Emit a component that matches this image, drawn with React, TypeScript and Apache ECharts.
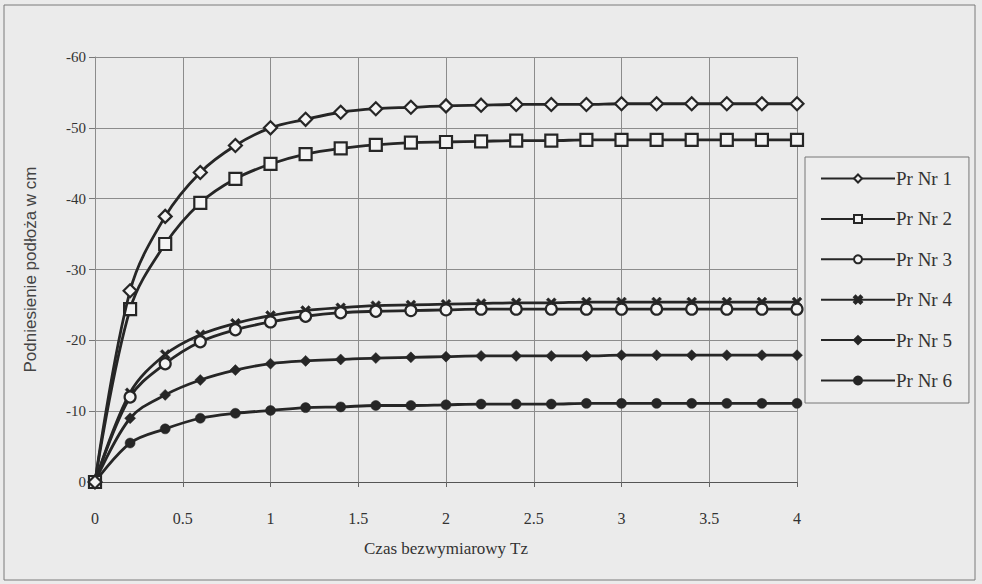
import React, { useEffect, useRef } from "react";
import * as echarts from "echarts";

const xValues = [0, 0.2, 0.4, 0.6, 0.8, 1.0, 1.2, 1.4, 1.6, 1.8, 2.0, 2.2, 2.4, 2.6, 2.8, 3.0, 3.2, 3.4, 3.6, 3.8, 4.0];

const seriesNames = ["Pr Nr 1", "Pr Nr 2", "Pr Nr 3", "Pr Nr 4", "Pr Nr 5", "Pr Nr 6"];

const pr1 = [0, -27.0, -37.5, -43.7, -47.5, -50.0, -51.2, -52.2, -52.7, -52.9, -53.1, -53.2, -53.3, -53.3, -53.3, -53.4, -53.4, -53.4, -53.4, -53.4, -53.4];
const pr2 = [0, -24.4, -33.6, -39.4, -42.8, -44.9, -46.3, -47.1, -47.6, -47.9, -48.0, -48.1, -48.2, -48.2, -48.3, -48.3, -48.3, -48.3, -48.3, -48.3, -48.3];
const pr3 = [0, -12.0, -16.7, -19.8, -21.5, -22.6, -23.4, -23.9, -24.1, -24.2, -24.3, -24.4, -24.4, -24.4, -24.4, -24.4, -24.4, -24.4, -24.4, -24.4, -24.4];
const pr4 = [0, -12.6, -18.0, -20.8, -22.4, -23.5, -24.2, -24.6, -24.9, -25.0, -25.1, -25.2, -25.3, -25.3, -25.4, -25.4, -25.4, -25.4, -25.4, -25.4, -25.4];
const pr5 = [0, -9.0, -12.3, -14.4, -15.8, -16.7, -17.1, -17.3, -17.5, -17.6, -17.7, -17.8, -17.8, -17.8, -17.8, -17.9, -17.9, -17.9, -17.9, -17.9, -17.9];
const pr6 = [0, -5.5, -7.5, -9.0, -9.7, -10.1, -10.5, -10.6, -10.8, -10.8, -10.9, -11.0, -11.0, -11.0, -11.1, -11.1, -11.1, -11.1, -11.1, -11.1, -11.1];

const allValues = [pr1, pr2, pr3, pr4, pr5, pr6];

const yMin = -60;
const yMax = 0;
const yStep = 10;
const xMin = 0;
const xMax = 4;
const xStep = 0.5;

const INK = "#262626";
const CROSS =
  "path://M2,0 L5,3 L8,0 L10,2 L7,5 L10,8 L8,10 L5,7 L2,10 L0,8 L3,5 L0,2 Z";

const markerDefs = [
  { symbol: "diamond", size: 13, hollow: true },
  { symbol: "rect", size: 12, hollow: true },
  { symbol: "circle", size: 11, hollow: true },
  { symbol: CROSS, size: 10, hollow: false },
  { symbol: "diamond", size: 11, hollow: false },
  { symbol: "circle", size: 10, hollow: false },
];

export default function App() {
  const ref = useRef<HTMLDivElement>(null);

  useEffect(() => {
    if (!ref.current) return;
    const chart = echarts.init(ref.current, undefined, { renderer: "svg" });

    const series = seriesNames.map((name, i) => {
      const m = markerDefs[i];
      return {
        name,
        type: "line",
        data: xValues.map((x, j) => [x, allValues[i][j]]),
        smooth: 0.35,
        symbol: m.symbol,
        symbolSize: m.size,
        showAllSymbol: true,
        lineStyle: { color: INK, width: 2.8 },
        itemStyle: m.hollow
          ? { color: "#f4f4f4", borderColor: INK, borderWidth: 2.2 }
          : { color: INK, borderColor: INK, borderWidth: 0.5 },
        z: 10 - i,
      };
    });

    chart.setOption({
      animation: false,
      backgroundColor: "#ebebeb",
      textStyle: { fontFamily: "Liberation Serif" },
      grid: { left: 95, right: 185, top: 57, bottom: 102, containLabel: false },
      graphic: [
        {
          type: "rect",
          shape: { x: 4, y: 5, width: 971, height: 575 },
          style: { fill: "none", stroke: "#7a7a7a", lineWidth: 1 },
          silent: true,
        },
      ],
      legend: {
        orient: "vertical",
        left: 805,
        top: 157,
        padding: [12, 17, 13, 15],
        itemWidth: 74,
        itemHeight: 10,
        itemGap: 21.4,
        borderColor: "#777",
        borderWidth: 1,
        backgroundColor: "#ededed",
        textStyle: { fontFamily: "Liberation Serif", fontSize: 19, color: "#333", padding: [0, 0, 0, -4] },
        data: seriesNames,
      },
      xAxis: {
        type: "value",
        min: xMin,
        max: xMax,
        interval: xStep,
        name: "Czas bezwymiarowy Tz",
        nameLocation: "middle",
        nameGap: 58,
        nameTextStyle: { fontFamily: "Liberation Serif", fontSize: 17, color: "#333" },
        axisLine: { show: true, lineStyle: { color: "#555", width: 1.2 } },
        axisTick: { show: true, length: 5, inside: false, lineStyle: { color: "#666" } },
        axisLabel: { margin: 28, fontSize: 16, color: "#333", fontFamily: "Liberation Serif" },
        splitLine: { show: true, lineStyle: { color: "#8c8c8c", width: 1 } },
      },
      yAxis: {
        type: "value",
        min: yMin,
        max: yMax,
        interval: yStep,
        inverse: true,
        name: "Podniesienie podłoża w cm",
        nameLocation: "middle",
        nameGap: 56,
        nameTextStyle: { fontFamily: "Liberation Sans", fontSize: 17, color: "#444" },
        axisLine: { show: true, lineStyle: { color: "#8c8c8c", width: 1 } },
        axisTick: { show: true, length: 6, lineStyle: { color: "#777" } },
        axisLabel: { margin: 9, fontSize: 15, color: "#333", fontFamily: "Liberation Serif" },
        splitLine: { show: true, lineStyle: { color: "#8c8c8c", width: 1 } },
      },
      series,
    });

    return () => chart.dispose();
  }, []);

  return (
    <div
      ref={ref}
      style={{ position: "fixed", left: 0, top: 0, width: 982, height: 584 }}
    />
  );
}
